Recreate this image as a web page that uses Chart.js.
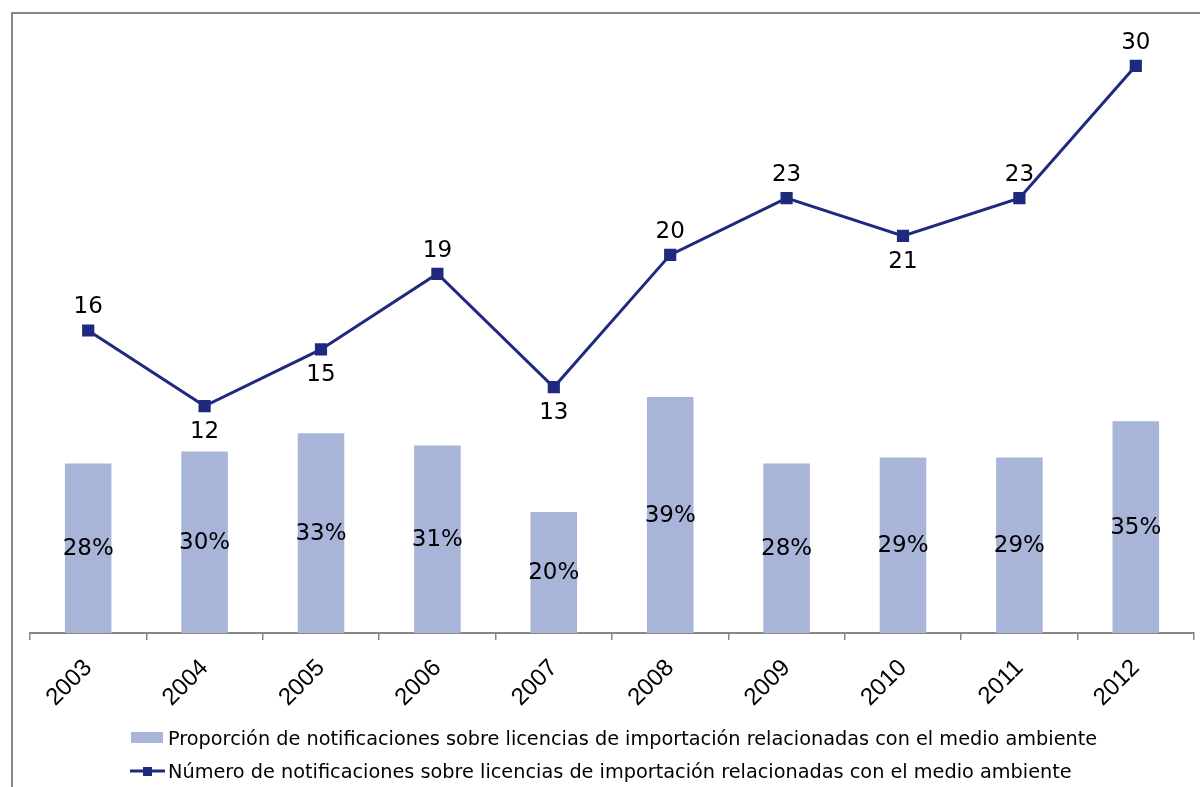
<!DOCTYPE html>
<html>
<head>
<meta charset="utf-8">
<script src="https://cdn.jsdelivr.net/npm/chart.js@4"></script>
<style>
  html, body { margin: 0; padding: 0; background: #fff; }
  #wrap { width: 1200px; height: 787px; }
</style>
</head>
<body>
<div id="wrap"><canvas id="licenciasChart" width="1200" height="787" role="img" aria-label="Notificaciones sobre licencias de importación"></canvas></div>
<script>
const years = ['2003', '2004', '2005', '2006', '2007', '2008', '2009', '2010', '2011', '2012'];
const shares = [28, 30, 33, 31, 20, 39, 28, 29, 29, 35];
const counts = [16, 12, 15, 19, 13, 20, 23, 21, 23, 30];
// which count labels sit under the point
const countBelow = [false, true, true, false, true, false, false, true, false, false];
const shareLabel = 'Proporción de notificaciones sobre licencias de importación relacionadas con el medio ambiente';
const countLabel = 'Número de notificaciones sobre licencias de importación relacionadas con el medio ambiente';

const barColor = '#A9B4D9';
const lineColor = '#1F2A7E';
const axisColor = '#878787';
const labelFont = '23px "DejaVu Sans"';

const valueLabels = {
    id: 'valueLabels',
    afterDatasetsDraw: function (chart) {
        const ctx = chart.ctx;
        ctx.save();
        ctx.font = labelFont;
        ctx.fillStyle = '#000';
        ctx.textAlign = 'center';
        ctx.textBaseline = 'middle';
        chart.getDatasetMeta(0).data.forEach((bar, i) => {
            ctx.fillText(shares[i] + '%', bar.x, (bar.y + bar.base) / 2 + 1);
        });
        chart.getDatasetMeta(1).data.forEach((pt, i) => {
            ctx.fillText(String(counts[i]), pt.x, pt.y + (countBelow[i] ? 26 : -23));
        });
        ctx.restore();
    },
    afterDraw: function (chart) {
        const ctx = chart.ctx;
        ctx.save();
        // frame
        ctx.strokeStyle = axisColor;
        ctx.lineWidth = 2;
        ctx.beginPath();
        ctx.moveTo(1200, 13);
        ctx.lineTo(12, 13);
        ctx.lineTo(12, 787);
        ctx.stroke();
        // legend
        ctx.font = '19.3px "DejaVu Sans"';
        ctx.textBaseline = 'alphabetic';
        ctx.fillStyle = barColor;
        ctx.fillRect(131, 732, 32, 11);
        ctx.fillStyle = '#000';
        ctx.fillText(shareLabel, 168, 745);
        ctx.strokeStyle = lineColor;
        ctx.lineWidth = 3;
        ctx.beginPath();
        ctx.moveTo(130, 771);
        ctx.lineTo(165, 771);
        ctx.stroke();
        ctx.fillStyle = lineColor;
        ctx.fillRect(143, 767, 9, 9);
        ctx.fillStyle = '#000';
        ctx.fillText(countLabel, 168, 778);
        ctx.restore();
    }
};

new Chart(document.getElementById('licenciasChart').getContext('2d'), {
    type: 'bar',
    data: {
        labels: years,
        datasets: [
            {
                type: 'bar',
                label: shareLabel,
                data: shares,
                backgroundColor: barColor,
                yAxisID: 'yShare',
                barPercentage: 0.4,
                categoryPercentage: 1,
                order: 1,
            },
            {
                type: 'line',
                label: countLabel,
                data: counts,
                borderColor: lineColor,
                backgroundColor: lineColor,
                borderWidth: 3,
                pointStyle: 'rect',
                pointRadius: 6.5,
                pointHoverRadius: 6.5,
                yAxisID: 'yCount',
                tension: 0,
                order: 0,
            },
        ],
    },
    options: {
        responsive: false,
        animation: false,
        layout: { autoPadding: false, padding: { left: 30, right: 6, top: 28, bottom: 0 } },
        plugins: {
            legend: { display: false },
            tooltip: { enabled: false },
        },
        scales: {
            x: {
                offset: true,
                grid: {
                    offset: true,
                    drawOnChartArea: false,
                    drawTicks: true,
                    tickLength: 7,
                    color: axisColor,
                    lineWidth: 1.5,
                },
                border: { display: true, color: axisColor, width: 2 },
                ticks: {
                    color: '#000',
                    font: { family: 'Liberation Sans', size: 24 },
                    minRotation: 45,
                    maxRotation: 45,
                    padding: 14,
                },
                afterFit: function (scale) {
                    scale.height = 154;
                    scale.paddingRight = 0;
                    scale.paddingLeft = 0;
                },
            },
            yShare: {
                display: false,
                min: 0,
                max: 100,
            },
            yCount: {
                display: false,
                min: 0,
                max: 32,
            },
        },
    },
    plugins: [valueLabels],
});
</script>
</body>
</html>
